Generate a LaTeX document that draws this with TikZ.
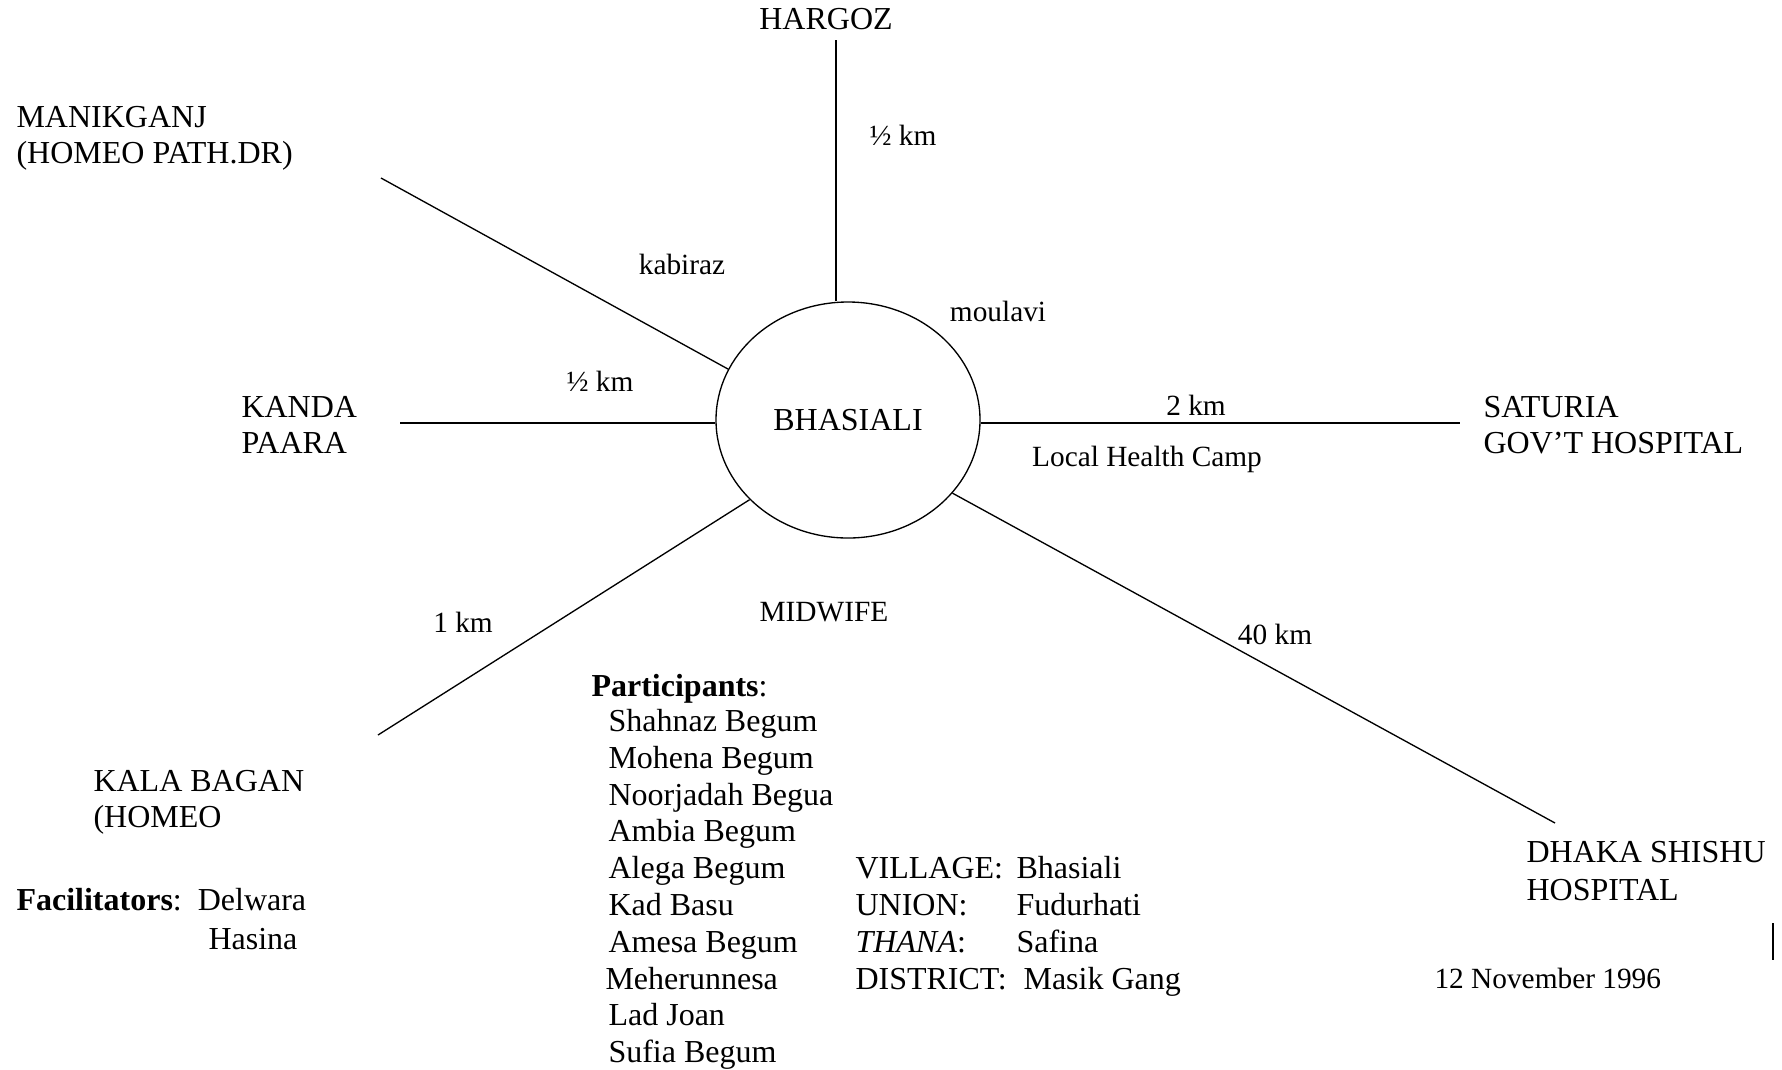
\documentclass[tikz,border=0pt]{standalone}
\usepackage{fontspec}
\setmainfont{Liberation Serif}
\usetikzlibrary{shapes.geometric}
\begin{document}
\begin{tikzpicture}[x=0.375pt,y=-0.375pt,
  big/.style={inner sep=0pt, font=\fontsize{12}{13.8}\selectfont},
  small/.style={inner sep=0pt, font=\fontsize{11}{12.6}\selectfont},
  link/.style={line width=0.5pt},
  hlink/.style={line width=0.8pt}]
\useasboundingbox (0,0) rectangle (1782,1069);

% centre
\node[draw, ellipse, line width=0.5pt, minimum width=99pt, minimum height=88.5pt, inner sep=0pt,
      font=\fontsize{12}{13.8}\selectfont] (bh) at (848,420) {BHASIALI};

% outer ends
\coordinate (hgE) at (836,40);
\coordinate (mkE) at (381,178);
\coordinate (kdE) at (400,423);
\coordinate (stE) at (1460,423);
\coordinate (kbE) at (378,735);
\coordinate (dkE) at (1555,823);

\draw[link] (hgE) -- (hgE |- bh.north);
\draw[link] (mkE) -- (bh.157);
\draw[hlink] (kdE) -- (kdE -| bh.west);
\draw[hlink] (stE -| bh.east) -- (stE);
\draw[link] (kbE) -- (bh.219);
\draw[link] (bh.325) -- (dkE);

% place labels
\node[big, anchor=base] (hargoz) at (826,29) {HARGOZ};
\node[big, anchor=base west] (manik1) at (16,127) {MANIKGANJ};
\node[big, anchor=base west] (manik2) at (16,163) {(HOMEO PATH.DR)};
\node[big, anchor=base west] (kanda1) at (241,417) {KANDA};
\node[big, anchor=base west] (kanda2) at (241,453) {PAARA};
\node[big, anchor=base west] (sat1) at (1483,417) {SATURIA};
\node[big, anchor=base west] (sat2) at (1483,453) {GOV'T HOSPITAL};
\node[big, anchor=base west] (kala1) at (93,791) {KALA BAGAN};
\node[big, anchor=base west] (kala2) at (93,827) {(HOMEO};
\node[big, anchor=base west] (dhaka1) at (1526,862) {DHAKA SHISHU};
\node[big, anchor=base west] (dhaka2) at (1526,900) {HOSPITAL};

% edge labels
\node[small, anchor=base] (lhg) at (903,145) {½ km};
\node[small, anchor=base] (lkab) at (682,274) {kabiraz};
\node[small, anchor=base] (lmou) at (998,321) {moulavi};
\node[small, anchor=base] (lkd) at (600,391) {½ km};
\node[small, anchor=base] (lst) at (1196,415) {2 km};
\node[small, anchor=base] (llhc) at (1147,466) {Local Health Camp};
\node[small, anchor=base] (lkb) at (463,632) {1 km};
\node[small, anchor=base] (lmid) at (824,621) {MIDWIFE};
\node[small, anchor=base] (ldk) at (1275,644) {40 km};

% facilitators
\node[big, anchor=base west] (fac) at (16,910) {\textbf{Facilitators}:\ \ Delwara};
\node[big, anchor=base west] (fac2) at (208,949) {Hasina};

% participants
\node[big, anchor=base west] (part) at (591,696) {\textbf{Participants}:};
\node[big, anchor=base west] (p1) at (608,731) {Shahnaz Begum};
\node[big, anchor=base west] (p2) at (608,768) {Mohena Begum};
\node[big, anchor=base west] (p3) at (608,805) {Noorjadah Begua};
\node[big, anchor=base west] (p4) at (608,841) {Ambia Begum};
\node[big, anchor=base west] (p5) at (608,878) {Alega Begum};
\node[big, anchor=base west] (p6) at (608,915) {Kad Basu};
\node[big, anchor=base west] (p7) at (608,952) {Amesa Begum};
\node[big, anchor=base west] (p8) at (605,989) {Meherunnesa};
\node[big, anchor=base west] (p9) at (608,1025) {Lad Joan};
\node[big, anchor=base west] (p10) at (608,1062) {Sufia Begum};

% location
\node[big, anchor=base west] (v1) at (855,878) {VILLAGE:};
\node[big, anchor=base west] (v2) at (855,915) {UNION:};
\node[big, anchor=base west] (v3) at (855,952) {\textit{THANA}:};
\node[big, anchor=base west] (v4) at (855,989) {DISTRICT:};
\node[big, anchor=base west] (w1) at (1016,878) {Bhasiali};
\node[big, anchor=base west] (w2) at (1016,915) {Fudurhati};
\node[big, anchor=base west] (w3) at (1016,952) {Safina};
\node[big, anchor=base west] (w4) at (1023,989) {Masik Gang};

\node[small, anchor=base west] (date) at (1434,988) {12 November 1996};

% small bar
\coordinate (barT) at (1773,923);
\coordinate (barB) at (1773,960);
\draw[line width=0.75pt] (barT) -- (barB);
\end{tikzpicture}
\end{document}
